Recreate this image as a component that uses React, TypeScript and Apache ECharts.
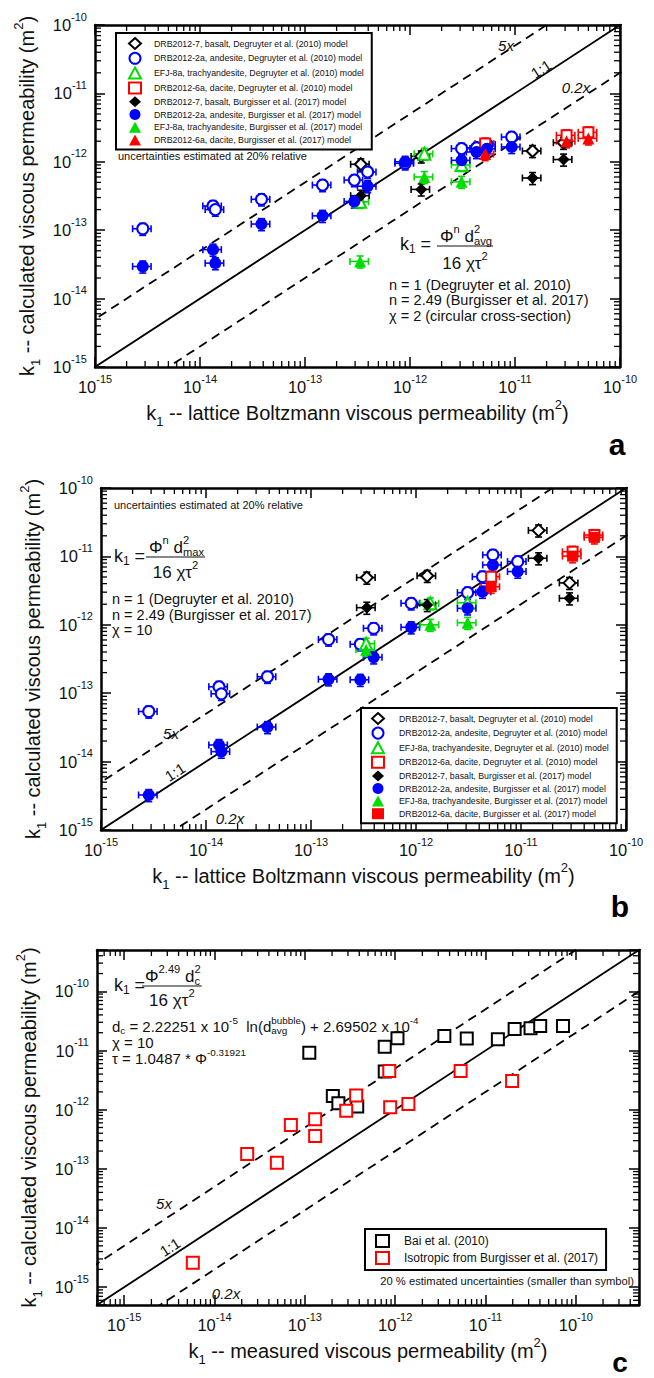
import React, { useEffect, useRef } from 'react';
import * as echarts from 'echarts';

const FONT = '"Liberation Sans", Arial, Helvetica, sans-serif';
const INK = '#111';

// ----- axis ranges, reference lines -----
const rangeAB = [1e-15, 1e-10];
const rangeC = [5e-16, 5e-10];
const ratioLines = [5, 1, 0.2];
const relUncertainty = 0.2;

// ----- panels a & b : lattice-Boltzmann permeability (x) of each sample -----
const basaltLB = [3.4e-13, 1.28e-12, 1.47e-11, 2.9e-11];
const andesiteLB = [2.85e-15, 1.33e-14, 1.4e-14, 3.85e-14, 1.47e-13, 2.95e-13, 3.95e-13, 9.0e-13, 3.1e-12, 4.3e-12, 5.4e-12, 9.3e-12];
const trachyLB = [3.35e-13, 1.37e-12, 3.1e-12];
const daciteLB = [5.2e-12, 3.1e-11, 5.0e-11];

// panel a (d_avg, chi = 2)
const aBasaltDeg = [9.2e-13, 1.2e-12, 1.44e-12, 1.9e-12];
const aBasaltBur = [3.2e-13, 3.95e-13, 5.8e-13, 1.08e-12];
const aAndesiteDeg = [1.05e-13, 2.26e-13, 2.0e-13, 2.83e-13, 4.57e-13, 5.4e-13, 7.1e-13, 9.5e-13, 1.56e-12, 1.6e-12, 1.8e-12, 2.3e-12];
const aAndesiteBur = [2.95e-14, 5.2e-14, 3.3e-14, 1.23e-13, 1.62e-13, 2.63e-13, 4.4e-13, 1.0e-12, 1.05e-12, 1.39e-12, 1.55e-12, 1.65e-12];
const aTrachyDeg = [2.6e-13, 1.31e-12, 9.0e-13];
const aTrachyBur = [3.5e-14, 6.0e-13, 5.1e-13];
const aDaciteDeg = [1.85e-12, 2.44e-12, 2.7e-12];
const aDaciteBur = [1.3e-12, 2.0e-12, 2.2e-12];

// panel b (d_max, chi = 10)
const bBasaltDeg = [4.9e-12, 5.2e-12, 2.4e-11, 4.1e-12];
const bBasaltBur = [1.78e-12, 1.95e-12, 9.4e-12, 2.44e-12];
const bAndesiteDeg = [5.4e-14, 1.24e-13, 9.8e-14, 1.74e-13, 6.1e-13, 5.2e-13, 8.9e-13, 2.06e-12, 2.95e-12, 5.05e-12, 1.05e-11, 8.4e-12];
const bAndesiteBur = [3.25e-15, 1.75e-14, 1.4e-14, 3.2e-14, 1.6e-13, 1.57e-13, 3.35e-13, 9.2e-13, 1.74e-12, 3.05e-12, 7.5e-12, 6.0e-12];
const bTrachyDeg = [5.3e-13, 2.06e-12, 2.1e-12];
const bTrachyBur = [4.3e-13, 1.0e-12, 1.07e-12];
const bDaciteDeg = [5.05e-12, 1.17e-11, 2.05e-11];
const bDaciteBur = [3.6e-12, 1.01e-11, 1.9e-11];

// panel c (measured vs calculated)
const baiMeasured = [1.12e-13, 7.66e-13, 1.06e-12, 3.5e-12, 6.2e-12, 1.37e-11, 2.1e-11, 3.15e-11, 4.03e-11, 7.2e-11, 7.66e-13, 2.04e-13, 2.35e-13, 3.8e-13];
const baiCalc = [9.2e-12, 1.16e-11, 1.61e-11, 1.76e-11, 1.6e-11, 1.55e-11, 2.3e-11, 2.37e-11, 2.6e-11, 2.6e-11, 4.4e-12, 1.7e-12, 1.29e-12, 1.13e-12];
const isoMeasured = [8.6e-13, 5.3e-12, 1.97e-11, 3.7e-13, 2.87e-13, 8.8e-13, 1.4e-12, 1.3e-13, 1.3e-13, 7.0e-14, 2.3e-14, 4.9e-14, 5.75e-15];
const isoCalc = [4.5e-12, 4.5e-12, 3.05e-12, 1.73e-12, 9.6e-13, 1.1e-12, 1.25e-12, 6.9e-13, 3.6e-13, 5.5e-13, 1.78e-13, 1.27e-13, 2.6e-15];

const BLACK = '#000000';
const BLUE = '#0000ff';
const GREEN = '#00dd00';
const RED = '#ff0000';

type Group = { name: string; symbol: string; size: number; color: string; open: boolean; x: number[]; y: number[] };

const N = {
  bd: 'DRB2012-7, basalt, Degruyter et al. (2010) model',
  ad: 'DRB2012-2a, andesite, Degruyter et al. (2010) model',
  td: 'EFJ-8a, trachyandesite, Degruyter et al. (2010) model',
  dd: 'DRB2012-6a, dacite, Degruyter et al. (2010) model',
  bb: 'DRB2012-7, basalt, Burgisser et al. (2017) model',
  ab: 'DRB2012-2a, andesite, Burgisser et al. (2017) model',
  tb: 'EFJ-8a, trachyandesite, Burgisser et al. (2017) model',
  db: 'DRB2012-6a, dacite, Burgisser et al. (2017) model',
};

const panelA: Group[] = [
  { name: N.bd, symbol: 'diamond', size: 12, color: BLACK, open: true, x: basaltLB, y: aBasaltDeg },
  { name: N.ad, symbol: 'circle', size: 11, color: BLUE, open: true, x: andesiteLB, y: aAndesiteDeg },
  { name: N.td, symbol: 'triangle', size: 12, color: GREEN, open: true, x: trachyLB, y: aTrachyDeg },
  { name: N.dd, symbol: 'rect', size: 10, color: RED, open: true, x: daciteLB, y: aDaciteDeg },
  { name: N.bb, symbol: 'diamond', size: 12, color: BLACK, open: false, x: basaltLB, y: aBasaltBur },
  { name: N.ab, symbol: 'circle', size: 12, color: BLUE, open: false, x: andesiteLB, y: aAndesiteBur },
  { name: N.tb, symbol: 'triangle', size: 12, color: GREEN, open: false, x: trachyLB, y: aTrachyBur },
  { name: N.db, symbol: 'triangle', size: 12, color: RED, open: false, x: daciteLB, y: aDaciteBur },
];
const panelB: Group[] = [
  { name: N.bd, symbol: 'diamond', size: 12, color: BLACK, open: true, x: basaltLB, y: bBasaltDeg },
  { name: N.ad, symbol: 'circle', size: 11, color: BLUE, open: true, x: andesiteLB, y: bAndesiteDeg },
  { name: N.td, symbol: 'triangle', size: 12, color: GREEN, open: true, x: trachyLB, y: bTrachyDeg },
  { name: N.dd, symbol: 'rect', size: 10, color: RED, open: true, x: daciteLB, y: bDaciteDeg },
  { name: N.bb, symbol: 'diamond', size: 12, color: BLACK, open: false, x: basaltLB, y: bBasaltBur },
  { name: N.ab, symbol: 'circle', size: 12, color: BLUE, open: false, x: andesiteLB, y: bAndesiteBur },
  { name: N.tb, symbol: 'triangle', size: 12, color: GREEN, open: false, x: trachyLB, y: bTrachyBur },
  { name: N.db, symbol: 'rect', size: 11, color: RED, open: false, x: daciteLB, y: bDaciteBur },
];
const panelC: Group[] = [
  { name: 'Bai et al. (2010)', symbol: 'rect', size: 12, color: BLACK, open: true, x: baiMeasured, y: baiCalc },
  { name: 'Isotropic from Burgisser et al. (2017)', symbol: 'rect', size: 12, color: RED, open: true, x: isoMeasured, y: isoCalc },
];

// ---------- layout ----------
const grids = [
  { left: 95, top: 25, width: 525, height: 342 },
  { left: 101, top: 488, width: 525, height: 342 },
  { left: 97, top: 950, width: 542, height: 355 },
];
const ranges = [rangeAB, rangeAB, rangeC];
const xTitles = [
  '{t|k}{sub|1}{t| -- lattice Boltzmann viscous permeability (m}{sup|2}{t|)}',
  '{t|k}{sub|1}{t| -- lattice Boltzmann viscous permeability (m}{sup|2}{t|)}',
  '{t|k}{sub|1}{t| -- measured viscous permeability (m}{sup|2}{t|)}',
];
const yTitle = '{t|k}{sub|1}{t| -- calculated viscous permeability (m}{sup|2}{t|)}';

let measureCtx: CanvasRenderingContext2D | null = null;
function tw(text: string, size: number): number {
  if (!measureCtx) measureCtx = document.createElement('canvas').getContext('2d');
  if (!measureCtx) return text.length * size * 0.5;
  measureCtx.font = `${size}px ${FONT}`;
  return measureCtx.measureText(text).width;
}

function richFor(size: number) {
  const s = Math.round(size * 0.66 * 10) / 10;
  return {
    m: { fontSize: size, fontFamily: FONT, verticalAlign: 'middle' },
    sup: { fontSize: s, fontFamily: FONT, verticalAlign: 'middle', padding: [0, 0, size * 0.8, 0] },
    sub: { fontSize: s, fontFamily: FONT, verticalAlign: 'middle', padding: [size * 0.6, 0, 0, 0] },
  };
}

function T(x: number, y: number, text: string, size: number, opts: any = {}) {
  return {
    type: 'text',
    x,
    y,
    rotation: opts.rotation || 0,
    silent: true,
    z: 10,
    style: {
      text,
      fill: opts.color || INK,
      fontSize: size,
      fontFamily: FONT,
      fontStyle: opts.italic ? 'italic' : 'normal',
      fontWeight: opts.bold ? 'bold' : 'normal',
      textAlign: opts.align || 'left',
      textVerticalAlign: 'middle',
      align: opts.align || 'left',
      verticalAlign: 'middle',
      rich: richFor(size),
    },
  };
}

function L(x1: number, y1: number, x2: number, y2: number, w = 1.2) {
  return { type: 'line', silent: true, z: 10, shape: { x1, y1, x2, y2 }, style: { stroke: INK, lineWidth: w } };
}

function fraction(kx: number, ky: number, nx: number, ny: number, lineY: number, dy: number, fs: number, numMain: string, numMainW: number, supTxt: string, subTxt: string) {
  const ss = Math.round(fs * 0.66 * 10) / 10;
  const stackX = nx + numMainW;
  const end = stackX + Math.max(tw(supTxt, ss), tw(subTxt, ss));
  const els: any[] = [];
  els.push(T(kx, ky, '{m|k}{sub|1}{m| =}', fs + 1));
  els.push(T(nx, ny, numMain, fs));
  els.push(T(stackX, ny, `{sup|${supTxt}}`, fs));
  els.push(T(stackX, ny, `{sub|${subTxt}}`, fs));
  els.push(L(nx - 3, lineY, end + 1, lineY));
  els.push(T((nx - 3 + end + 1) / 2, dy, '{m|16 χτ}{sup|2}', fs, { align: 'center' }));
  return els;
}

function buildGraphic() {
  const g: any[] = [];
  const rot = (33 * Math.PI) / 180;
  // ----- panel a -----
  g.push(T(118, 156, 'uncertainties estimated at 20% relative', 11));
  {
    const fs = 17, ss = Math.round(fs * 0.66 * 10) / 10;
    const w = tw('Φ', fs) + tw('n', ss) + tw(' d', fs);
    g.push(...fraction(400, 244, 440, 236, 246, 263, fs, '{m|Φ}{sup|n}{m| d}', w, '2', 'avg'));
  }
  g.push(T(389, 285, 'n = 1 (Degruyter et al. 2010)', 14.5));
  g.push(T(389, 300, 'n = 2.49 (Burgisser et al. 2017)', 14.5));
  g.push(T(389, 315.5, 'χ = 2 (circular cross-section)', 14.5));
  g.push(T(506, 45, '5x', 15, { italic: true, align: 'center' }));
  g.push(T(541, 69, '1:1', 15, { align: 'center', rotation: rot }));
  g.push(T(576, 87, '0.2x', 15, { italic: true, align: 'center' }));
  g.push(T(617, 444, 'a', 30, { bold: true, align: 'center', color: '#000' }));

  // ----- panel b -----
  g.push(T(114, 505, 'uncertainties estimated at 20% relative', 11));
  {
    const fs = 17, ss = Math.round(fs * 0.66 * 10) / 10;
    const w = tw('Φ', fs) + tw('n', ss) + tw(' d', fs);
    g.push(...fraction(114, 556, 149, 547, 557, 572, fs, '{m|Φ}{sup|n}{m| d}', w, '2', 'max'));
  }
  g.push(T(112, 599, 'n = 1 (Degruyter et al. 2010)', 14.5));
  g.push(T(112, 615, 'n = 2.49 (Burgisser et al. 2017)', 14.5));
  g.push(T(112, 630, 'χ = 10', 14.5));
  g.push(T(171, 733, '5x', 15, { italic: true, align: 'center' }));
  g.push(T(175, 772, '1:1', 15, { align: 'center', rotation: rot }));
  g.push(T(230, 818, '0.2x', 15, { italic: true, align: 'center' }));
  g.push(T(620, 906, 'b', 30, { bold: true, align: 'center', color: '#000' }));

  // ----- panel c -----
  {
    const fs = 17, ss = Math.round(fs * 0.66 * 10) / 10;
    const w = tw('Φ', fs) + tw('2.49', ss) + tw(' d', fs);
    g.push(...fraction(114, 985, 145, 976, 986, 1000, fs, '{m|Φ}{sup|2.49}{m| d}', w, '2', 'c'));
  }
  {
    const fs = 15, ss = Math.round(fs * 0.66 * 10) / 10;
    const x0 = 112, y0 = 1026;
    const wA = tw('d', fs) + tw('c', ss) + tw(' = 2.22251 x 10', fs) + tw('-5', ss) + tw('  ln(d', fs);
    g.push(T(x0, y0, '{m|d}{sub|c}{m| = 2.22251 x 10}{sup|-5}{m| \u00a0ln(d}', fs));
    g.push(T(x0 + wA, y0, '{sup|bubble}', fs));
    g.push(T(x0 + wA, y0, '{sub|avg}', fs));
    const wB = Math.max(tw('bubble', ss), tw('avg', ss));
    g.push(T(x0 + wA + wB, y0, '{m|) + 2.69502 x 10}{sup|-4}', fs));
    g.push(T(x0, 1042, 'χ = 10', fs));
    g.push(T(x0, 1058, '{m|τ = 1.0487 * Φ}{sup|-0.31921}', fs));
  }
  g.push(T(164, 1203, '5x', 15, { italic: true, align: 'center' }));
  g.push(T(170, 1247, '1:1', 15, { align: 'center', rotation: rot }));
  g.push(T(226, 1293, '0.2x', 15, { italic: true, align: 'center' }));
  g.push(T(634, 1281, '20 % estimated uncertainties (smaller than symbol)', 11.2, { align: 'right' }));
  g.push(T(620, 1362, 'c', 28, { bold: true, align: 'center', color: '#000' }));
  return g;
}

function tickLabel(v: number) {
  const r = Math.round(v);
  return Math.abs(v - r) < 1e-6 ? `{b|10}{s|${r}}` : '';
}
const tickRich = {
  b: { fontSize: 16.5, fontFamily: FONT, color: INK, verticalAlign: 'middle' },
  s: { fontSize: 11, fontFamily: FONT, color: INK, verticalAlign: 'middle', padding: [0, 0, 17, 0] },
};
const titleRich = {
  t: { fontSize: 20, fontFamily: FONT, color: INK, verticalAlign: 'middle' },
  sub: { fontSize: 13, fontFamily: FONT, color: INK, verticalAlign: 'middle', padding: [16, 0, 0, 0] },
  sup: { fontSize: 13, fontFamily: FONT, color: INK, verticalAlign: 'middle', padding: [0, 0, 17, 0] },
};

function buildAxes() {
  const xAxis: any[] = [];
  const yAxis: any[] = [];
  ranges.forEach((rg, p) => {
    const lo = Math.log10(rg[0]);
    const hi = Math.log10(rg[1]);
    const isInt = Math.abs(lo - Math.round(lo)) < 1e-9;
    const scale: any = isInt ? { min: Math.round(lo), max: Math.round(hi), interval: 1 } : { min: lo, max: hi, splitNumber: 6 };
    const common = {
      type: 'value',
      gridIndex: p,
      ...scale,
      axisLine: { show: true, onZero: false, lineStyle: { color: '#000', width: 2.5 } },
      axisTick: { show: true, inside: true, length: 10, lineStyle: { color: '#000', width: 1.5 } },
      splitLine: { show: false },
    };
    xAxis.push({
      ...common,
      position: 'bottom',
      axisLabel: { show: true, margin: 6, formatter: tickLabel, rich: tickRich, color: INK },
      name: xTitles[p],
      nameLocation: 'middle',
      nameGap: 31,
      nameTextStyle: { rich: titleRich, fontSize: 20, fontFamily: FONT, color: INK },
    });
    xAxis.push({ ...common, position: 'top', axisLabel: { show: false } });
    yAxis.push({
      ...common,
      position: 'left',
      axisLabel: { show: true, margin: 8, formatter: tickLabel, rich: tickRich, color: INK },
      name: yTitle,
      nameLocation: 'middle',
      nameGap: 47,
      nameTextStyle: { rich: titleRich, fontSize: 20, fontFamily: FONT, color: INK },
    });
    yAxis.push({ ...common, position: 'right', axisLabel: { show: false } });
  });
  return { xAxis, yAxis };
}

function errorBarRenderer(color: string) {
  const lo = Math.log10(1 - relUncertainty);
  const hi = Math.log10(1 + relUncertainty);
  return (params: any, api: any) => {
    const lx = api.value(0);
    const ly = api.value(1);
    const l = api.coord([lx + lo, ly]);
    const r = api.coord([lx + hi, ly]);
    const b = api.coord([lx, ly + lo]);
    const t = api.coord([lx, ly + hi]);
    const c = 3.5;
    const style = { stroke: color, lineWidth: 1.6 };
    const ln = (x1: number, y1: number, x2: number, y2: number) => ({ type: 'line', shape: { x1, y1, x2, y2 }, style });
    return {
      type: 'group',
      children: [
        ln(l[0], l[1], r[0], r[1]),
        ln(l[0], l[1] - c, l[0], l[1] + c),
        ln(r[0], r[1] - c, r[0], r[1] + c),
        ln(b[0], b[1], t[0], t[1]),
        ln(b[0] - c, b[1], b[0] + c, b[1]),
        ln(t[0] - c, t[1], t[0] + c, t[1]),
      ],
    };
  };
}

function minorTickValues(lo: number, hi: number) {
  const out: number[][] = [];
  for (let n = Math.floor(lo); n <= Math.ceil(hi); n++) {
    for (let k = 2; k <= 9; k++) {
      const v = n + Math.log10(k);
      if (v > lo + 1e-9 && v < hi - 1e-9) out.push([v, v]);
    }
  }
  return out;
}

function buildSeries() {
  const series: any[] = [];
  const panels = [panelA, panelB, panelC];
  panels.forEach((groups, p) => {
    const ax = { xAxisIndex: 2 * p, yAxisIndex: 2 * p };
    const lo = Math.log10(ranges[p][0]);
    const hi = Math.log10(ranges[p][1]);
    // minor ticks on all four sides
    series.push({
      type: 'custom',
      ...ax,
      name: `minor${p}`,
      silent: true,
      z: 4,
      data: minorTickValues(lo, hi),
      renderItem: (params: any, api: any) => {
        const v = api.value(0);
        const cs = params.coordSys;
        const px = api.coord([v, lo])[0];
        const py = api.coord([lo, v])[1];
        const len = 6;
        const style = { stroke: '#000', lineWidth: 1.3 };
        const bt = cs.y + cs.height;
        const rt = cs.x + cs.width;
        return {
          type: 'group',
          children: [
            { type: 'line', shape: { x1: px, y1: bt, x2: px, y2: bt - len }, style },
            { type: 'line', shape: { x1: px, y1: cs.y, x2: px, y2: cs.y + len }, style },
            { type: 'line', shape: { x1: cs.x, y1: py, x2: cs.x + len, y2: py }, style },
            { type: 'line', shape: { x1: rt, y1: py, x2: rt - len, y2: py }, style },
          ],
        };
      },
    });
    // reference ratio lines
    ratioLines.forEach((r) => {
      const lr = Math.log10(r);
      series.push({
        type: 'line',
        ...ax,
        name: `ratio${p}-${r}`,
        silent: true,
        z: 1,
        symbol: 'none',
        clip: true,
        data: [
          [lo - 2, lo - 2 + lr],
          [hi + 2, hi + 2 + lr],
        ],
        lineStyle: { color: '#000', width: 1.8, type: r === 1 ? 'solid' : [9, 6] },
      });
    });
    if (p < 2) {
      groups.forEach((g) => {
        series.push({
          type: 'custom',
          ...ax,
          name: `err${p}|${g.name}`,
          silent: true,
          z: 2,
          data: g.x.map((x, i) => [Math.log10(x), Math.log10(g.y[i])]),
          renderItem: errorBarRenderer(g.color),
        });
      });
    }
    groups.forEach((g) => {
      series.push({
        type: 'scatter',
        ...ax,
        name: `${p}|${g.name}`,
        z: 3,
        symbol: g.symbol,
        symbolSize: g.size,
        symbolKeepAspect: true,
        itemStyle: g.open
          ? { color: '#ffffff', borderColor: g.color, borderWidth: 2, opacity: 1 }
          : { color: g.color, borderWidth: 0, opacity: 1 },
        data: g.x.map((x, i) => [Math.log10(x), Math.log10(g.y[i])]),
      });
    });
  });
  return series;
}

function legendFor(p: number, groups: Group[], opts: any) {
  return {
    orient: 'vertical',
    data: groups.map((g) => `${p}|${g.name}`),
    formatter: (n: string) => n.split('|')[1],
    selectedMode: false,
    symbolKeepAspect: true,
    backgroundColor: '#ffffff',
    borderColor: '#000000',
    borderWidth: 2,
    borderRadius: 0,
    z: 6,
    ...opts,
  };
}

function buildOption() {
  const { xAxis, yAxis } = buildAxes();
  return {
    animation: false,
    backgroundColor: '#ffffff',
    grid: grids,
    xAxis,
    yAxis,
    legend: [
      legendFor(0, panelA, {
        left: 116, top: 33, itemWidth: 12, itemHeight: 11, itemGap: 1.8, padding: [4, 8, 4, 12],
        textStyle: { fontSize: 8.8, fontFamily: FONT, color: INK, padding: [0, 0, 0, 8] },
      }),
      legendFor(1, panelB, {
        left: 361, top: 708, itemWidth: 12, itemHeight: 11, itemGap: 1.6, padding: [4, 8, 4, 10],
        textStyle: { fontSize: 8.8, fontFamily: FONT, color: INK, padding: [0, 0, 0, 10] },
      }),
      legendFor(2, panelC, {
        left: 365, top: 1229, itemWidth: 13, itemHeight: 12, itemGap: 3, padding: [5, 8, 5, 10],
        textStyle: { fontSize: 12, fontFamily: FONT, color: INK, padding: [0, 0, 0, 10] },
      }),
    ],
    series: buildSeries(),
    graphic: { elements: buildGraphic() },
  };
}

export default function App() {
  const ref = useRef<HTMLDivElement>(null);
  useEffect(() => {
    document.body.style.margin = '0';
    if (!ref.current) return;
    const chart = echarts.init(ref.current, null, { renderer: 'svg' });
    chart.setOption(buildOption() as any);
    return () => chart.dispose();
  }, []);
  return <div ref={ref} style={{ width: 654, height: 1378 }} />;
}
